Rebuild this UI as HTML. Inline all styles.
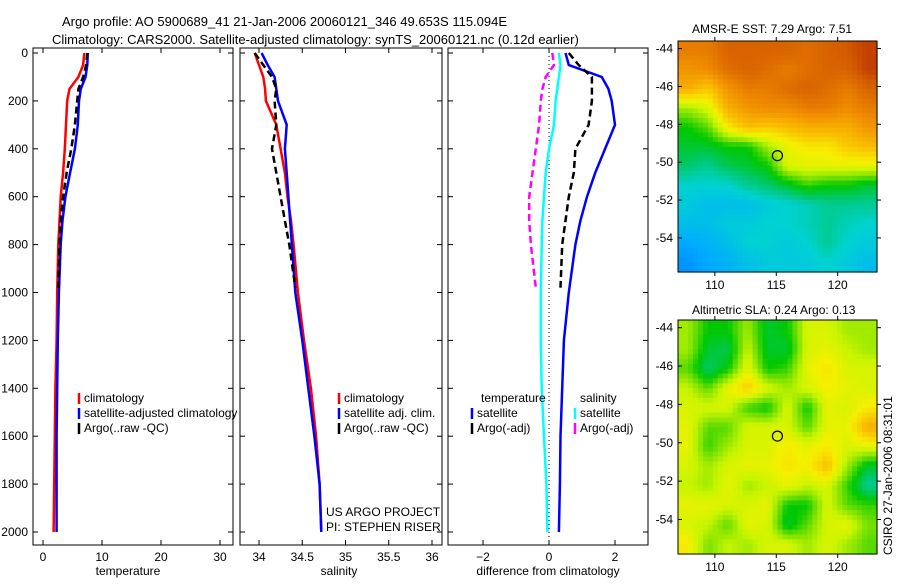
<!DOCTYPE html>
<html><head><meta charset="utf-8"><style>
body{margin:0;background:#fff;width:900px;height:580px;overflow:hidden;font-family:"Liberation Sans",sans-serif}
svg text{font-family:"Liberation Sans",sans-serif;font-size:12px;fill:#000}
</style></head><body>
<svg id="c" width="900" height="580" xmlns="http://www.w3.org/2000/svg">
<text x="62" y="26" style="font-size:13px">Argo profile: AO 5900689_41 21-Jan-2006 20060121_346 49.653S 115.094E</text>
<text x="52" y="44" style="font-size:13px">Climatology: CARS2000. Satellite-adjusted climatology: synTS_20060121.nc (0.12d earlier)</text>
<text x="692" y="33">AMSR-E SST: 7.29 Argo: 7.51</text>
<text x="692" y="314">Altimetric SLA: 0.24 Argo: 0.13</text>
<text transform="translate(892,555) rotate(-90)">CSIRO 27-Jan-2006 08:31:01</text>
<text x="326" y="516">US ARGO PROJECT</text>
<text x="326" y="531">PI: STEPHEN RISER</text>
</svg>
<script>
const depths=[0,50,100,150,200,300,400,500,600,700,800,1000,1200,1400,1600,1800,2000];
const climT=[7.0,6.8,6.0,4.5,4.1,3.9,3.7,3.4,3.0,2.8,2.6,2.4,2.3,2.1,2.0,1.9,1.8];
const satT=[7.6,7.5,7.2,6.4,6.1,5.9,5.4,4.6,3.8,3.3,3.0,2.7,2.5,2.4,2.3,2.3,2.3];
const argoDepths=[0,50,100,150,200,300,400,500,600,700,800,980];
const argoT=[7.5,7.3,6.8,6.0,5.8,5.4,4.8,4.0,3.4,3.0,2.8,2.6];
const climS=[33.95,34.0,34.05,34.07,34.08,34.2,34.25,34.3,34.33,34.37,34.4,34.45,34.52,34.6,34.66,34.7,34.72];
const satS=[34.03,34.1,34.18,34.2,34.22,34.32,34.3,34.32,34.34,34.36,34.38,34.42,34.5,34.57,34.64,34.7,34.72];
const argoS=[33.95,34.05,34.15,34.2,34.18,34.2,34.15,34.2,34.25,34.3,34.35,34.42];
const diffTsat=[0.5,0.6,1.6,1.8,1.9,2.0,1.7,1.4,1.15,0.95,0.8,0.6,0.45,0.4,0.35,0.33,0.3];
const diffTargo=[0.6,0.9,1.3,1.3,1.3,1.2,0.8,0.75,0.6,0.5,0.4,0.35];
const diffSsat=[0.3,0.35,0.3,0.25,0.2,0.15,0.0,-0.1,-0.15,-0.2,-0.22,-0.25,-0.25,-0.22,-0.15,-0.08,-0.05];
const diffSargo=[0.1,0.15,-0.1,-0.2,-0.25,-0.3,-0.4,-0.5,-0.6,-0.6,-0.55,-0.4];
const tTicks=[0,10,20,30], sTicks=[34,34.5,35,35.5,36], dTicks=[-2,0,2], zTicks=[0,200,400,600,800,1000,1200,1400,1600,1800,2000];
const latTicks=[-44,-46,-48,-50,-52,-54], lonTicks=[110,115,120];
const sstGrid=[
[.85,.85,.9,.9,.9,.9,.88,.9,.92,.95],[.8,.82,.88,.9,.88,.85,.88,.9,.9,.95],
[.75,.7,.8,.85,.85,.88,.9,.88,.85,.9],[.55,.6,.75,.8,.82,.82,.85,.85,.82,.85],
[.45,.5,.65,.72,.7,.72,.75,.75,.75,.8],[.42,.42,.45,.45,.55,.62,.65,.65,.7,.72],
[.38,.35,.4,.42,.45,.6,.62,.62,.62,.62],[.3,.3,.3,.35,.38,.42,.48,.45,.45,.42],
[.28,.25,.25,.25,.28,.3,.32,.35,.35,.35],[.25,.25,.28,.28,.3,.3,.32,.35,.32,.3],
[.2,.22,.25,.3,.3,.28,.3,.35,.3,.28],[.15,.2,.22,.25,.28,.28,.28,.3,.28,.25]];
const slaGrid=[
[.55,.45,.45,.55,.42,.45,.6,.6,.55,.55],[.55,.42,.4,.58,.42,.42,.6,.62,.58,.55],
[.5,.38,.45,.62,.45,.48,.62,.66,.6,.6],[.58,.5,.62,.7,.6,.55,.6,.64,.62,.6],
[.6,.6,.6,.48,.45,.6,.45,.62,.6,.65],[.62,.5,.5,.6,.6,.6,.5,.62,.62,.75],
[.62,.48,.55,.6,.6,.65,.62,.65,.6,.62],[.6,.55,.6,.62,.62,.66,.64,.72,.55,.42],
[.58,.55,.62,.55,.58,.62,.58,.6,.48,.35],[.62,.62,.6,.6,.62,.45,.45,.6,.5,.48],
[.6,.58,.5,.62,.6,.42,.5,.6,.62,.52],[.65,.52,.58,.55,.6,.6,.55,.6,.55,.5]];
const floatLon=115.094, floatLat=-49.653;

const svg=document.getElementById('c');const NS='http://www.w3.org/2000/svg';
function mk(t,a,p){const e=document.createElementNS(NS,t);for(const k in a)e.setAttribute(k,a[k]);(p||svg).appendChild(e);return e;}
const Y0=53,Y1=532,FT=48,FB=545;
const yz=z=>Y0+(Y1-Y0)*z/2000;
function group(name){
  const g=mk('g',{});
  
  
  return g;
}
function frame(g,L,R,xs,ticks,fmt,lab,labx,leftLabels){
  const r=mk('rect',{x:L,y:FT,width:R-L,height:FB-FT,fill:'none',stroke:'#000'},g);
  
  
  ticks.forEach(t=>{const x=xs(t);mk('line',{x1:x,x2:x,y1:FB,y2:FB-5,stroke:'#000'},g);mk('line',{x1:x,x2:x,y1:FT,y2:FT+5,stroke:'#000'},g);
    const tx=mk('text',{x:x,y:FB+16,'text-anchor':'middle'},g);tx.textContent=fmt(t);
    
    });
  zTicks.forEach(z=>{const y=yz(z);mk('line',{x1:L,x2:L+5,y1:y,y2:y,stroke:'#000'},g);mk('line',{x1:R,x2:R-5,y1:y,y2:y,stroke:'#000'},g);
    if(leftLabels){const tx=mk('text',{x:L-5,y:y+4,'text-anchor':'end'},g);tx.textContent=z;
    
    }});
  const t=mk('text',{x:labx,y:575,'text-anchor':'middle'},g);t.textContent=lab;
  
  
}
function line(g,xs,vals,ds,color,dash,name){
  const pts=vals.map((v,i)=>xs(v).toFixed(1)+','+yz(ds[i]).toFixed(1)).join(' ');
  const a={points:pts,fill:'none',stroke:color,'stroke-width':2.5};if(dash)a['stroke-dasharray']=dash;
  const p=mk('polyline',a,g);
  
  
}
function legend(g,x,y,items){
  items.forEach((it,i)=>{const yy=y+i*15;mk('line',{x1:x,x2:x,y1:yy-9,y2:yy+2,stroke:it[1],'stroke-width':2.5},g);
    const t=mk('text',{x:x+5,y:yy},g);t.textContent=it[0];
    
    });
}
let G=group('temperature-panel');let xs=v=>43+v*5.9;
line(G,xs,climT,depths,'#f00',null,'clim-temperature-line');
line(G,xs,satT,depths,'#00f',null,'sat-temperature-line');
line(G,xs,argoT,argoDepths,'#000','7,4','argo-temperature-line');
frame(G,33,233,xs,tTicks,t=>t,'temperature',128,true);
legend(G,79,402,[['climatology','#f00'],['satellite-adjusted climatology','#00f'],['Argo(..raw -QC)','#000']]);
G=group('salinity-panel');xs=v=>259+(v-34)*86.5;
line(G,xs,climS,depths,'#f00',null,'clim-salinity-line');
line(G,xs,satS,depths,'#00f',null,'sat-salinity-line');
line(G,xs,argoS,argoDepths,'#000','7,4','argo-salinity-line');
frame(G,240,442,xs,sTicks,t=>t,'salinity',339,false);
legend(G,339,402,[['climatology','#f00'],['satellite adj. clim.','#00f'],['Argo(..raw -QC)','#000']]);
G=group('difference-panel');xs=v=>549+v*33;
mk('line',{x1:xs(0),x2:xs(0),y1:FT,y2:FB,stroke:'#000','stroke-dasharray':'1,3'},G);
line(G,xs,diffTsat,depths,'#00f',null,'diff-temp-sat-line');
line(G,xs,diffTargo,argoDepths,'#000','7,4','diff-temp-argo-line');
line(G,xs,diffSsat,depths,'#0ff',null,'diff-sal-sat-line');
line(G,xs,diffSargo,argoDepths,'#f0f','7,4','diff-sal-argo-line');
frame(G,448,648,xs,dTicks,t=>t==-2?'\u22122':t,'difference from climatology',548,false);
let tt=mk('text',{x:481,y:402},G);tt.textContent='temperature';


tt=mk('text',{x:580,y:402},G);tt.textContent='salinity';


legend(G,472,417,[['satellite','#00f'],['Argo(-adj)','#000']]);
legend(G,575,417,[['satellite','#0ff'],['Argo(-adj)','#f0f']]);
function cmap(v){const st=[[0,[0,80,255]],[.2,[0,170,255]],[.3,[0,210,210]],[.38,[0,200,110]],[.45,[0,200,0]],[.52,[120,225,0]],[.58,[200,245,0]],[.64,[245,240,0]],[.72,[250,190,0]],[.82,[240,140,0]],[.92,[210,90,0]],[1,[170,20,0]]];
 if(v<=0)return 'rgb(0,80,255)';
 for(let i=1;i<st.length;i++){if(v<=st[i][0]){const a=st[i-1],b=st[i],f=(v-a[0])/(b[0]-a[0]);return 'rgb('+a[1].map((c,k)=>Math.round(c+(b[1][k]-c)*f)).join(',')+')';}}return 'rgb(170,20,0)';}
function sample(grid,fy,fx){const nr=grid.length,nc=grid[0].length;
  fy=Math.max(0,Math.min(nr-1,fy));fx=Math.max(0,Math.min(nc-1,fx));
  const r0=Math.floor(fy),c0=Math.floor(fx),r1=Math.min(nr-1,r0+1),c1=Math.min(nc-1,c0+1),a=fy-r0,b=fx-c0;
  return grid[r0][c0]*(1-a)*(1-b)+grid[r0][c1]*(1-a)*b+grid[r1][c0]*a*(1-b)+grid[r1][c1]*a*b;}
function map(name,grid,T,B){
  const L=678,R=877,lon0=107,lon1=123.2,lat0=-43.6,lat1=-55.8;
  const lx=v=>L+(v-lon0)/(lon1-lon0)*(R-L), ly=v=>T+(v-lat0)/(lat1-lat0)*(B-T);
  const g=group(name);
  const nr=grid.length,nc=grid[0].length,U=4,cw=(R-L)/(nc*U),ch=(B-T)/(nr*U);
  for(let r=0;r<nr*U;r++)for(let c=0;c<nc*U;c++){
    const v=sample(grid,(r+0.5)/U-0.5,(c+0.5)/U-0.5);
    const e=mk('rect',{x:(L+c*cw).toFixed(2),y:(T+r*ch).toFixed(2),width:(cw+0.6).toFixed(2),height:(ch+0.6).toFixed(2),fill:cmap(v)},g);
    
    }
  const f=mk('rect',{x:L,y:T,width:R-L,height:B-T,fill:'none',stroke:'#000'},g);
  
  
  latTicks.forEach(v=>{const y=ly(v);mk('line',{x1:L,x2:L+4,y1:y,y2:y,stroke:'#000'},g);mk('line',{x1:R,x2:R+4,y1:y,y2:y,stroke:'#000'},g);
    const t=mk('text',{x:L-5,y:y+4,'text-anchor':'end'},g);t.textContent=v;
    
    });
  lonTicks.forEach(v=>{const x=lx(v);mk('line',{x1:x,x2:x,y1:B,y2:B+4,stroke:'#000'},g);mk('line',{x1:x,x2:x,y1:T,y2:T-4,stroke:'#000'},g);
    const t=mk('text',{x:x,y:B+17,'text-anchor':'middle'},g);t.textContent=v;
    
    });
  const m=mk('circle',{cx:lx(floatLon),cy:ly(floatLat),r:5,fill:'none',stroke:'#000','stroke-width':1.2},g);
  
  
}
map('sst-map',sstGrid,41,272);
map('sla-map',slaGrid,320,554);
</script>
</body></html>
